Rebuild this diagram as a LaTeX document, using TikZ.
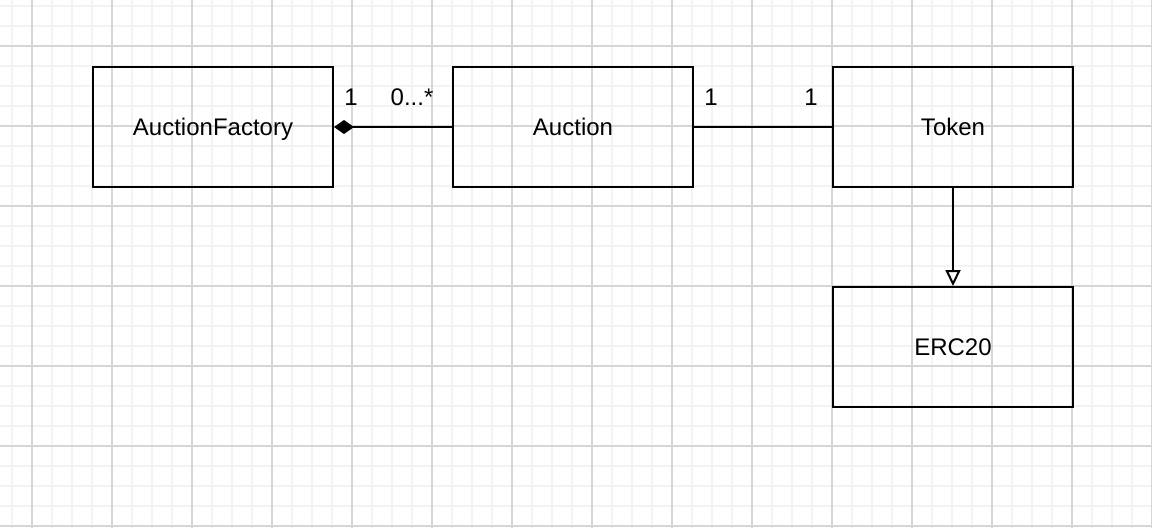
\documentclass[tikz,border=0pt]{standalone}
\usepackage{fontspec}
\setmainfont{Liberation Sans}
\usetikzlibrary{arrows.meta}
\definecolor{minorgrid}{HTML}{F3F3F3}
\definecolor{majorgrid}{HTML}{D6D6D6}
\tikzset{
  classbox/.style={draw=black, line width=2pt, minimum width=240pt, minimum height=120pt, inner sep=0pt, text height=17pt, text depth=0pt, font=\fontsize{24}{28}\selectfont},
  mult/.style={font=\fontsize{24}{28}\selectfont, inner sep=0pt, text height=17pt, text depth=0pt, anchor=center},
  conn/.style={draw=black, line width=2pt},
}
\begin{document}
\begin{tikzpicture}[x=1pt,y=-1pt]
\useasboundingbox (0,0) rectangle (1152,528);
\fill[white] (0,0) rectangle (1152,528);
% minor grid
\foreach \x in {12,32,...,1152} \draw[minorgrid, line width=1.2pt] (\x,0) -- (\x,528);
\foreach \y in {6,26,...,528} \draw[minorgrid, line width=1.2pt] (0,\y) -- (1152,\y);
% major grid
\foreach \x in {32,112,...,1152} \draw[majorgrid, line width=1.2pt] (\x,0) -- (\x,528);
\foreach \y in {46,126,...,528} \draw[majorgrid, line width=1.2pt] (0,\y) -- (1152,\y);

\node[classbox] (factory) at (213,127) {AuctionFactory};
\node[classbox] (auction) at (573,127) {Auction};
\node[classbox] (token) at (953,127) {Token};
\node[classbox] (erc) at (953,347) {ERC20};

\draw[conn, {Diamond[length=20pt,width=14pt]}-] (factory.east) -- (auction.west);
\draw[conn] (auction.east) -- (token.west);
\draw[conn, -{Triangle[open,length=16pt,width=15pt,line width=2pt]}] (token.south) -- (erc.north);

\node[mult] (m1) at (351,97) {1};
\node[mult] (m2) at (412,97) {0...*};
\node[mult] (m3) at (711,97) {1};
\node[mult] (m4) at (811,97) {1};
\end{tikzpicture}
\end{document}
